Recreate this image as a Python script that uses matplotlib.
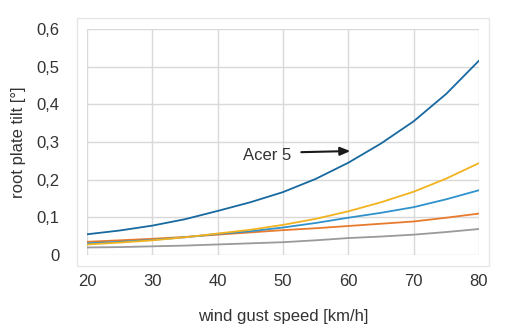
import matplotlib
matplotlib.use('Agg')
import matplotlib.pyplot as plt
from matplotlib.patches import Rectangle

# wind gust speed [km/h]
speed = [20, 25, 30, 35, 40, 45, 50, 55, 60, 65, 70, 75, 80]
# root plate tilt [deg]
acer5 = [.055, .065, .078, .095, .117, .140, .167, .202, .245, .296, .355, .428, .516]
yellow_tree = [.028, .033, .039, .047, .057, .067, .080, .096, .116, .140, .168, .203, .244]
lightblue_tree = [.031, .035, .040, .047, .056, .063, .073, .085, .099, .112, .127, .148, .172]
orange_tree = [.035, .039, .043, .048, .054, .060, .066, .071, .077, .083, .089, .099, .110]
gray_tree = [.020, .021, .023, .025, .028, .031, .034, .039, .045, .049, .054, .061, .069]

yticks = [0, 0.1, 0.2, 0.3, 0.4, 0.5, 0.6]
ytick_labels = ['0', '0,1', '0,2', '0,3', '0,4', '0,5', '0,6']
xticks = [20, 30, 40, 50, 60, 70, 80]

plt.rcParams['font.family'] = ['Liberation Sans', 'DejaVu Sans']
txt = '#333333'

fig = plt.figure(figsize=(5.18, 3.33), dpi=100)
ax = fig.add_axes([87/518, 78/333, 392/518, 226/333])

# outer chart frame
fig.patches.append(Rectangle((77/518, 67/333), 412/518, 248/333, transform=fig.transFigure,
                             fill=False, edgecolor='#e6e6e6', linewidth=1))

lw = 1.3
kw = dict(lw=lw, solid_joinstyle='round', solid_capstyle='round')
ax.plot(speed, gray_tree, color='#9a9a9a', **kw)
ax.plot(speed, orange_tree, color='#e87a2e', **kw)
ax.plot(speed, lightblue_tree, color='#2f92cc', **kw)
ax.plot(speed, yellow_tree, color='#f2b31f', **kw)
ax.plot(speed, acer5, color='#17699f', **kw)

ax.text(51.3, 0.263, 'Acer 5', ha='right', va='center', fontsize=12, color=txt)
ax.annotate('', xy=(60.3, 0.276), xytext=(52.8, 0.273),
            arrowprops=dict(arrowstyle='-|>,head_length=0.6,head_width=0.25',
                            color='#1a1a1a', lw=1.5, shrinkA=0, shrinkB=0))

ax.set_xlim(20, 80)
ax.set_ylim(0, 0.6)
ax.set_xticks(xticks)
ax.set_yticks(yticks)
ax.set_yticklabels(ytick_labels)
ax.tick_params(length=0, labelsize=12, colors=txt)
ax.tick_params(axis='y', pad=20)
ax.tick_params(axis='x', pad=14)
for s in ax.spines.values():
    s.set_visible(False)
ax.grid(True, color='#d9d9d9', lw=1)
ax.set_axisbelow(True)

ax.set_xlabel('wind gust speed [km/h]', fontsize=12, color=txt, labelpad=14)
ax.set_ylabel('root plate tilt [°]', fontsize=12, color=txt, labelpad=7)

fig.savefig('out.png', dpi=100)
